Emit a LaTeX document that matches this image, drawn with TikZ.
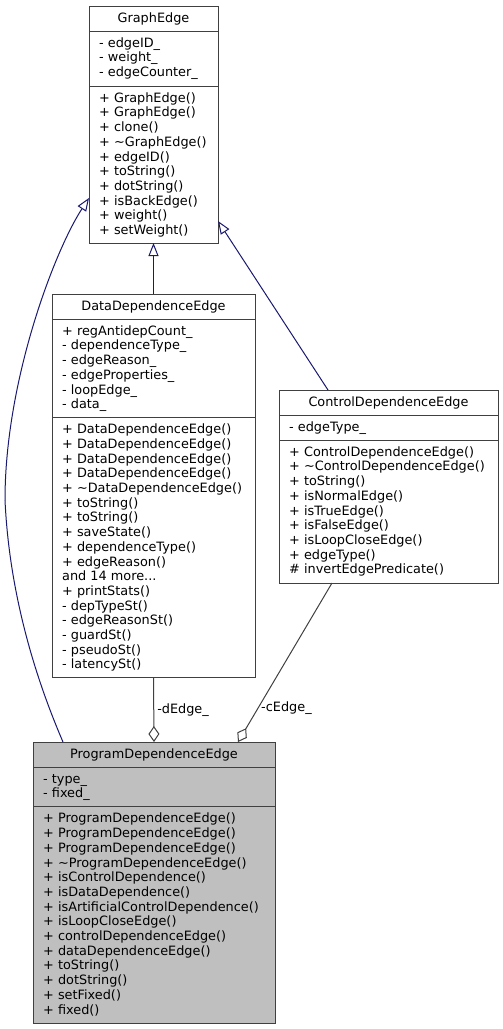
\documentclass[tikz,border=0pt]{standalone}
\usepackage{fontspec}
\setmainfont{DejaVu Sans}
\usetikzlibrary{arrows.meta}
\definecolor{inhcol}{HTML}{191970}
\definecolor{aggcol}{HTML}{404040}
\definecolor{boxcol}{HTML}{404040}
\definecolor{pdefill}{HTML}{BFBFBF}
\newcommand{\fl}{\rule{0pt}{10pt}}
\newcommand{\tl}{\textasciitilde}
\newcommand{\dfont}{\fontsize{12.85}{14.7}\selectfont}
\tikzset{
  classbox/.style={draw=boxcol, line width=1pt, rectangle, anchor=north west, inner sep=0pt, outer sep=0pt},
  sep/.style={draw=boxcol, line width=1pt},
  ttl/.style={anchor=base, inner sep=0pt, font=\dfont},
  members/.style={anchor=north west, inner sep=0pt, align=left, font=\dfont},
  lbl/.style={inner sep=3pt, font=\dfont},
  inh/.style={draw=inhcol, line width=1pt, -{Triangle[open, length=13pt, width=10pt, fill=white]}},
  agg/.style={draw=aggcol, line width=1pt, -{Diamond[open, length=16pt, width=11pt, fill=white]}},
}
\begin{document}
\begin{tikzpicture}[x=1pt, y=-1pt]
\useasboundingbox (0,0) rectangle (503,1029);

% GraphEdge
\node[classbox, minimum width=129pt, minimum height=237pt] (ge) at (89,6) {};
\draw[sep] (89,31) -- (218,31);
\draw[sep] (89,86) -- (218,86);
\node[ttl] (geT) at (153.5,22) {GraphEdge};
\node[members] (geA) at (99,37) {\fl- edgeID\_\\- weight\_\\- edgeCounter\_};
\node[members] (geM) at (99,92) {\fl+ GraphEdge()\\+ GraphEdge()\\+ clone()\\+ \tl GraphEdge()\\+ edgeID()\\+ toString()\\+ dotString()\\+ isBackEdge()\\+ weight()\\+ setWeight()};

% DataDependenceEdge
\node[classbox, minimum width=203pt, minimum height=383.7pt] (dde) at (52,294) {};
\draw[sep] (52,319) -- (255,319);
\draw[sep] (52,417.5) -- (255,417.5);
\node[ttl] (ddeT) at (153.5,310) {DataDependenceEdge};
\node[members] (ddeA) at (62,325) {\fl+ regAntidepCount\_\\- dependenceType\_\\- edgeReason\_\\- edgeProperties\_\\- loopEdge\_\\- data\_};
\node[members] (ddeM) at (62,423.5) {\fl+ DataDependenceEdge()\\+ DataDependenceEdge()\\+ DataDependenceEdge()\\+ DataDependenceEdge()\\+ \tl DataDependenceEdge()\\+ toString()\\+ toString()\\+ saveState()\\+ dependenceType()\\+ edgeReason()\\and 14 more...\\+ printStats()\\- depTypeSt()\\- edgeReasonSt()\\- guardSt()\\- pseudoSt()\\- latencySt()};

% ControlDependenceEdge
\node[classbox, minimum width=219pt, minimum height=193pt] (cde) at (279,390) {};
\draw[sep] (279,415) -- (498,415);
\draw[sep] (279,440) -- (498,440);
\node[ttl] (cdeT) at (388.5,406) {ControlDependenceEdge};
\node[members] (cdeA) at (289,421) {\fl- edgeType\_};
\node[members] (cdeM) at (289,446) {\fl+ ControlDependenceEdge()\\+ \tl ControlDependenceEdge()\\+ toString()\\+ isNormalEdge()\\+ isTrueEdge()\\+ isFalseEdge()\\+ isLoopCloseEdge()\\+ edgeType()\\\# invertEdgePredicate()};

% ProgramDependenceEdge
\node[classbox, fill=pdefill, minimum width=242pt, minimum height=281pt] (pde) at (33,742) {};
\draw[sep] (33,767) -- (275,767);
\draw[sep] (33,806.7) -- (275,806.7);
\node[ttl] (pdeT) at (154,758) {ProgramDependenceEdge};
\node[members] (pdeA) at (43,773) {\fl- type\_\\- fixed\_};
\node[members] (pdeM) at (43,812.7) {\fl+ ProgramDependenceEdge()\\+ ProgramDependenceEdge()\\+ ProgramDependenceEdge()\\+ \tl ProgramDependenceEdge()\\+ isControlDependence()\\+ isDataDependence()\\+ isArtificialControlDependence()\\+ isLoopCloseEdge()\\+ controlDependenceEdge()\\+ dataDependenceEdge()\\+ toString()\\+ dotString()\\+ setFixed()\\+ fixed()};

% Inheritance
\draw[inh] (dde.north) -- (ge.south);
\draw[inh] ([xshift=49pt]cde.north west) -- ([yshift=22pt]ge.south east);
\draw[inh] ([xshift=30pt]pde.north west) .. controls (45,700) and (10,610) .. (5,500)
   .. controls (5,380) and (55,250) .. ([yshift=45pt]ge.south west);

% Aggregation
\draw[agg] (dde.south) -- node[lbl, right, pos=0.5] {-dEdge\_} (pde.north);
\draw[agg] ([xshift=53pt]cde.south west) -- node[lbl, right, pos=0.79] {-cEdge\_} ([xshift=205pt]pde.north west);
\end{tikzpicture}
\end{document}
